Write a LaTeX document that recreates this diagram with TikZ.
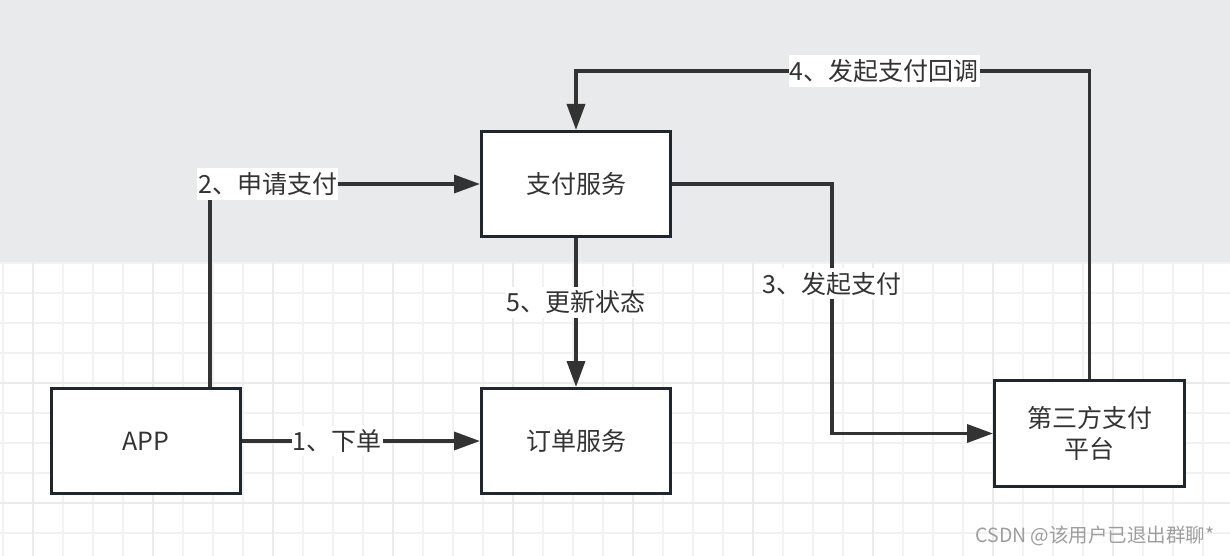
\documentclass[tikz,border=0pt]{standalone}
\usepackage{fontspec}
\setmainfont{Noto Sans CJK SC}
\usetikzlibrary{arrows.meta}
\usetikzlibrary{positioning}

\definecolor{bgtop}{HTML}{E9EAEC}
\definecolor{gridminor}{HTML}{F2F2F2}
\definecolor{gridmajor}{HTML}{EAEAEA}
\definecolor{boxline}{HTML}{1F262D}
\definecolor{arrline}{HTML}{333333}
\definecolor{txt}{HTML}{333333}
\definecolor{mark}{HTML}{9E9E9E}

\begin{document}
\begin{tikzpicture}[x=1pt,y=-1pt,
box/.style={draw=boxline,line width=3.4pt,fill=white,minimum width=188.6pt,
minimum height=104.6pt,align=center,text=txt,font=\fontsize{25}{33}\selectfont},
link/.style={draw=arrline,line width=3.5pt,-{Triangle[length=26pt,width=18pt]}},
lbl/.style={fill=white,text=txt,inner xsep=1pt,inner ysep=4pt,
font=\fontsize{25}{29}\selectfont}]
\useasboundingbox (0,0) rectangle (1230,556);
% background: grey band and grid paper
\fill[bgtop] (0,0) rectangle (1230,263);
\fill[white] (0,263) rectangle (1230,556);
\foreach \x in {3,33,...,1230}
  \draw[gridminor,line width=2pt] (\x,263) -- (\x,556);
\foreach \y in {263,293,...,556}
  \draw[gridminor,line width=2pt] (0,\y) -- (1230,\y);
\foreach \x in {33,153,...,1230}
  \draw[gridmajor,line width=2pt] (\x,263) -- (\x,556);
\foreach \y in {383,503}
  \draw[gridmajor,line width=2pt] (0,\y) -- (1230,\y);

\node[box] (pay) at (576,184) {支付服务};
\node[box] (app) at (146,441) {APP};
\node[box] (order) at (576,441) {订单服务};
\node[box,minimum width=189.6pt,minimum height=105.6pt] (third) at (1089.5,433.5)
  {第三方支付\\[-2pt]平台};

\coordinate (turn2) at (210,184);
\coordinate (turn3) at (832,184);
\coordinate (turn4) at (1089.5,71);

\draw[link] (app) -- (order) node[lbl,pos=0.4] {1、下单};
\draw[link] (app.north -| turn2) |- (pay.west) node[lbl,pos=0.607] {2、申请支付};
\draw[link] (pay.east) -- (turn3) |- (third.west) node[lbl,pos=0.2] {3、发起支付};
\draw[link] (third.north) -- (turn4) -| (pay.north) node[lbl,pos=0.2] {4、发起支付回调};
\draw[link] (pay) -- (order) node[lbl,pos=0.43] {5、更新状态};

\node[text=mark,font=\fontsize{19.5}{22}\selectfont] (wm) at (1095,536)
  {CSDN @该用户已退出群聊*};
\end{tikzpicture}
\end{document}
